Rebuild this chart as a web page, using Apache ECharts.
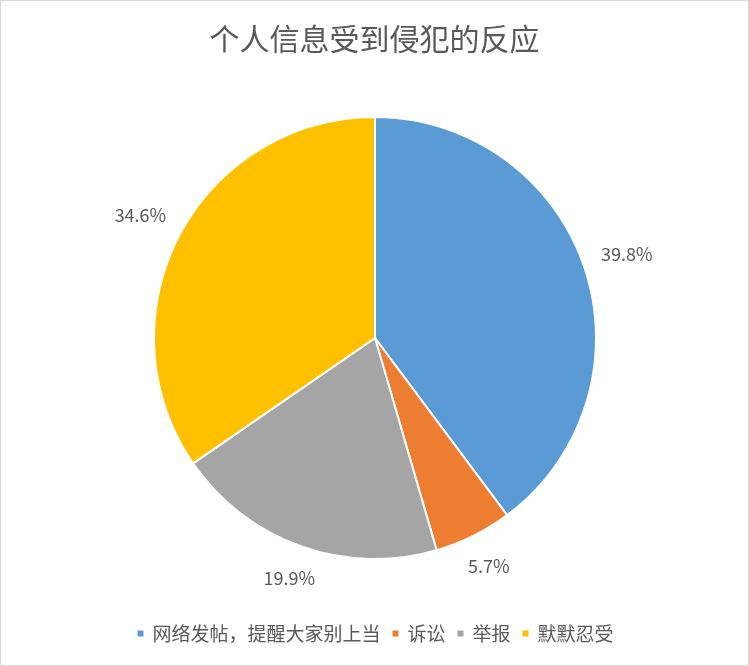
<!DOCTYPE html>
<html>
<head>
<meta charset="utf-8">
<script src="https://cdn.jsdelivr.net/npm/echarts@6/dist/echarts.min.js"></script>
<style>
html,body{margin:0;padding:0;background:#fff;}
#chart{width:749px;height:666px;box-sizing:border-box;border:1px solid #d9d9d9;}
</style>
</head>
<body>
<div id="chart"></div>
<script>
const titleText = '个人信息受到侵犯的反应';
const categories = ['网络发帖，提醒大家别上当', '诉讼', '举报', '默默忍受'];
const values = [39.8, 5.7, 19.9, 34.6];
const colors = ['#5B9BD5', '#ED7D31', '#A5A5A5', '#FFC000'];

const FONT = '"Noto Sans CJK SC", "Microsoft YaHei", sans-serif';
const chart = echarts.init(document.getElementById('chart'), null, {renderer: 'canvas'});
const GAP = 17;

chart.setOption({
  animation: false,
  color: colors,
  title: {
    text: titleText,
    left: 'center',
    top: 18,
    textStyle: {fontFamily: FONT, fontSize: 30, fontWeight: 'normal', color: '#595959'}
  },
  legend: {
    bottom: 17,
    left: 'center',
    icon: 'rect',
    itemWidth: 8,
    itemHeight: 8,
    itemGap: 10,
    data: categories,
    textStyle: {fontFamily: FONT, fontSize: 19, color: '#595959', padding: [0, 0, 0, 3]}
  },
  series: [{
    type: 'pie',
    center: [374, 337],
    radius: 221,
    startAngle: 90,
    clockwise: true,
    avoidLabelOverlap: false,
    itemStyle: {borderColor: '#fff', borderWidth: 2},
    label: {
      show: true,
      position: 'outside',
      formatter: p => p.value.toFixed(1) + '%',
      fontFamily: FONT,
      fontSize: 18,
      color: '#595959'
    },
    labelLine: {show: true, length: 10, length2: 0, lineStyle: {opacity: 0}},
    labelLayout: function (params) {
      const pts = params.labelLinePoints;
      if (!pts) return {};
      const dx = pts[1][0] - pts[0][0], dy = pts[1][1] - pts[0][1];
      const len = Math.sqrt(dx * dx + dy * dy) || 1;
      const ux = dx / len, uy = dy / len;
      const w = params.labelRect.width, h = params.labelRect.height;
      const ext = (w / 2) * Math.abs(ux) + (h / 2) * Math.abs(uy);
      return {
        x: pts[0][0] + ux * (GAP + ext),
        y: pts[0][1] + uy * (GAP + ext),
        align: 'center',
        verticalAlign: 'middle'
      };
    },
    emphasis: {disabled: true},
    data: categories.map((c, i) => ({name: c, value: values[i]}))
  }]
});
</script>
</body>
</html>
